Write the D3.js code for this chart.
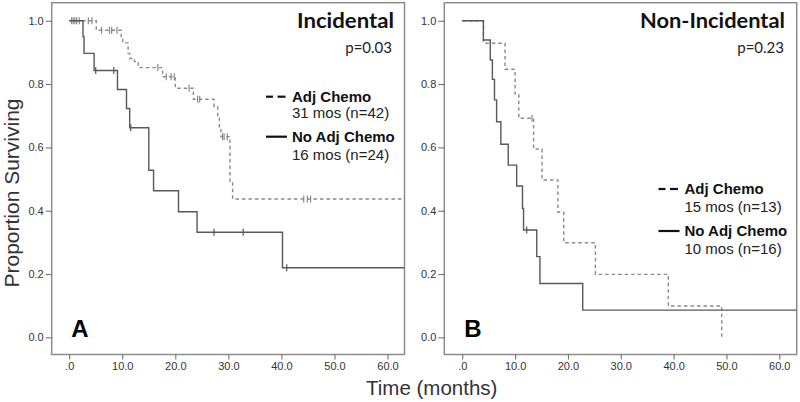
<!DOCTYPE html>
<html><head><meta charset="utf-8">
<script src="https://cdn.jsdelivr.net/npm/d3@7"></script>
<style>html,body{margin:0;padding:0;background:#fff;}svg{display:block;}</style>
</head><body>
<svg id="c" width="800" height="402"></svg>
<script>
// ---------- data ----------
const xTicks = [0, 10, 20, 30, 40, 50, 60];
const yTicks = [0, 0.2, 0.4, 0.6, 0.8, 1.0];

// Panel A: Incidental
const aAdjTimes  = [0, 5.1, 9.8, 10.1, 11.1, 11.4, 12.3, 13.0, 17.6, 20.0, 23.4, 27.3, 28.0, 28.3, 28.6, 30.3, 30.8];
const aAdjSurv   = [1.0, 0.97, 0.944, 0.93, 0.897, 0.881, 0.871, 0.852, 0.823, 0.787, 0.752, 0.728, 0.692, 0.66, 0.634, 0.49, 0.437];
const aAdjCensor = [0.45, 0.75, 1.06, 1.4, 1.9, 3.6, 4.3, 6.1, 7.6, 8.0, 9.0, 16.7, 18.3, 19.2, 19.8, 22.6, 24.2, 24.6, 28.9, 29.2, 29.8, 44.2, 44.9, 45.5];
const aAdjEnd = 63.2;
const aNoTimes  = [0, 2.6, 2.8, 4.7, 9.1, 10.8, 11.4, 15.0, 15.9, 20.6, 24.1, 40.2];
const aNoSurv   = [1.0, 0.95, 0.897, 0.843, 0.783, 0.723, 0.662, 0.528, 0.463, 0.397, 0.332, 0.22];
const aNoCensor = [5.0, 8.4, 11.6, 27.3, 32.8, 41.0];
const aNoEnd = 63.2;

// Panel B: Non-Incidental
const bAdjTimes  = [0, 4.0, 8.1, 10.0, 10.7, 13.5, 15.1, 18.1, 19.2, 25.2, 39.0, 49.1];
const bAdjSurv   = [1.0, 0.929, 0.847, 0.769, 0.692, 0.595, 0.497, 0.395, 0.299, 0.199, 0.099, 0.0];
const bAdjCensor = [13.2];
const bAdjEnd = 49.1;
const bNoTimes  = [0, 4.0, 5.3, 5.7, 6.1, 6.5, 7.3, 8.7, 10.3, 11.4, 11.6, 14.1, 14.7, 22.8];
const bNoSurv   = [1.0, 0.939, 0.876, 0.815, 0.75, 0.681, 0.61, 0.544, 0.478, 0.407, 0.339, 0.255, 0.17, 0.086];
const bNoCensor = [12.2];
const bNoEnd = 63.3;

const titles = ["Incidental", "Non-Incidental"];
const pvals = ["p=0.03", "p=0.23"];
const panelLetters = ["A", "B"];
const legendNames = ["Adj Chemo", "No Adj Chemo"];
const legendA = ["31 mos (n=42)", "16 mos (n=24)"];
const legendB = ["15 mos (n=13)", "10 mos (n=16)"];

// ---------- drawing ----------
const svg = d3.select("#c");
const font = "'Liberation Sans', Arial, sans-serif";
const solidCol = "#585858", dashCol = "#8a8a8a", frameCol = "#8c8c8c";

const panels = [
  {x0: 51.7, x1: 404.5, dom: [-3.3, 63.2],
   curves: [
     {t: aAdjTimes, s: aAdjSurv, c: aAdjCensor, end: aAdjEnd, dashed: true},
     {t: aNoTimes, s: aNoSurv, c: aNoCensor, end: aNoEnd, dashed: false}],
   title: titles[0], p: pvals[0], letter: panelLetters[0], legend: legendA,
   titleRight: 394, titleLen: 97, pRight: 392, legX: 266, legTextX: 292, legY: [96.7, 113, 136.7, 155]},
  {x0: 444.3, x1: 796.7, dom: [-3.4, 63.3],
   curves: [
     {t: bAdjTimes, s: bAdjSurv, c: bAdjCensor, end: bAdjEnd, dashed: true},
     {t: bNoTimes, s: bNoSurv, c: bNoCensor, end: bNoEnd, dashed: false}],
   title: titles[1], p: pvals[1], letter: panelLetters[1], legend: legendB,
   titleRight: 785, titleLen: 145, pRight: 784, legX: 658.5, legTextX: 684.5, legY: [189, 207, 231, 249]}
];

const y = d3.scaleLinear().domain([-0.054, 1.057]).range([354.5, 2.7]);

panels.forEach(P => {
  const x = d3.scaleLinear().domain(P.dom).range([P.x0, P.x1]);
  const g = svg.append("g");

  // frame
  g.append("rect").attr("x", P.x0).attr("y", y.range()[1])
    .attr("width", P.x1 - P.x0).attr("height", y.range()[0] - y.range()[1])
    .attr("fill", "none").attr("stroke", frameCol).attr("stroke-width", 1.5);

  // y axis
  const ya = g.append("g").attr("transform", `translate(${P.x0},0)`)
    .call(d3.axisLeft(y).tickValues(yTicks).tickSize(6).tickPadding(2).tickFormat(d3.format(".1f")));
  ya.select(".domain").remove();
  ya.selectAll("line").attr("stroke", "#666");
  ya.selectAll("text").attr("font-family", font).attr("font-size", 11).attr("fill", "#333");

  // x axis
  const xa = g.append("g").attr("transform", `translate(0,${y.range()[0]})`)
    .call(d3.axisBottom(x).tickValues(xTicks).tickSize(5).tickPadding(3)
      .tickFormat(d => d === 0 ? ".0" : d3.format(".1f")(d)));
  xa.select(".domain").remove();
  xa.selectAll("line").attr("stroke", "#666");
  xa.selectAll("text").attr("font-family", font).attr("font-size", 11).attr("fill", "#333");

  const line = d3.line().x(d => x(d[0])).y(d => y(d[1])).curve(d3.curveStepAfter);

  P.curves.forEach(C => {
    const pts = C.t.map((t, i) => [t, C.s[i]]);
    pts.push([C.end, C.s[C.s.length - 1]]);
    const col = C.dashed ? dashCol : solidCol;
    g.append("path").attr("d", line(pts)).attr("fill", "none")
      .attr("stroke", col).attr("stroke-width", 1.4)
      .attr("stroke-dasharray", C.dashed ? "3.5,3" : null);
    const survAt = tt => { let v = 1; C.t.forEach((t, i) => { if (t <= tt) v = C.s[i]; }); return v; };
    g.selectAll(null).data(C.c).enter().append("line")
      .attr("x1", d => x(d)).attr("x2", d => x(d))
      .attr("y1", d => y(survAt(d)) - 3.5).attr("y2", d => y(survAt(d)) + 3.5)
      .attr("stroke", col).attr("stroke-width", 1.2);
  });

  // title & p
  g.append("text").attr("x", P.titleRight).attr("y", 27.5).attr("text-anchor", "end")
    .attr("font-family", "Lato, 'Open Sans', sans-serif").attr("font-weight", "bold")
    .attr("font-size", 21).attr("textLength", P.titleLen).attr("lengthAdjust", "spacingAndGlyphs")
    .attr("fill", "#111").text(P.title);
  g.append("text").attr("x", P.pRight).attr("y", 52.5).attr("text-anchor", "end")
    .attr("font-family", "Lato, 'Open Sans', sans-serif").attr("font-size", 15)
    .attr("fill", "#222").text(P.p);

  // legend
  const lx = P.legX;
  g.append("line").attr("x1", lx).attr("x2", lx + 7).attr("y1", P.legY[0]).attr("y2", P.legY[0])
    .attr("stroke", "#111").attr("stroke-width", 2.2);
  g.append("line").attr("x1", lx + 11.5).attr("x2", lx + 19.5).attr("y1", P.legY[0]).attr("y2", P.legY[0])
    .attr("stroke", "#111").attr("stroke-width", 2.2);
  g.append("line").attr("x1", lx).attr("x2", lx + 21).attr("y1", P.legY[2]).attr("y2", P.legY[2])
    .attr("stroke", "#111").attr("stroke-width", 2.2);
  [0, 1].forEach(i => {
    g.append("text").attr("x", P.legTextX).attr("y", P.legY[i * 2] + 5.3)
      .attr("font-family", font).attr("font-weight", "bold").attr("font-size", 15)
      .attr("fill", "#111").text(legendNames[i]);
    g.append("text").attr("x", P.legTextX).attr("y", P.legY[i * 2 + 1] + 5.3)
      .attr("font-family", font).attr("font-size", 15)
      .attr("fill", "#222").text(P.legend[i]);
  });

  // panel letter
  g.append("text").attr("x", x(0) + 2).attr("y", 336.7)
    .attr("font-family", font).attr("font-weight", "bold").attr("font-size", 24)
    .attr("fill", "#000").text(P.letter);
});

// axis titles
svg.append("text").attr("transform", "translate(19,193) rotate(-90)")
  .attr("text-anchor", "middle").attr("font-family", font).attr("font-size", 21)
  .attr("fill", "#333").text("Proportion Surviving");
svg.append("text").attr("x", 366).attr("y", 395)
  .attr("font-family", font).attr("font-size", 20.5)
  .attr("fill", "#333").text("Time (months)");
</script>
</body></html>
